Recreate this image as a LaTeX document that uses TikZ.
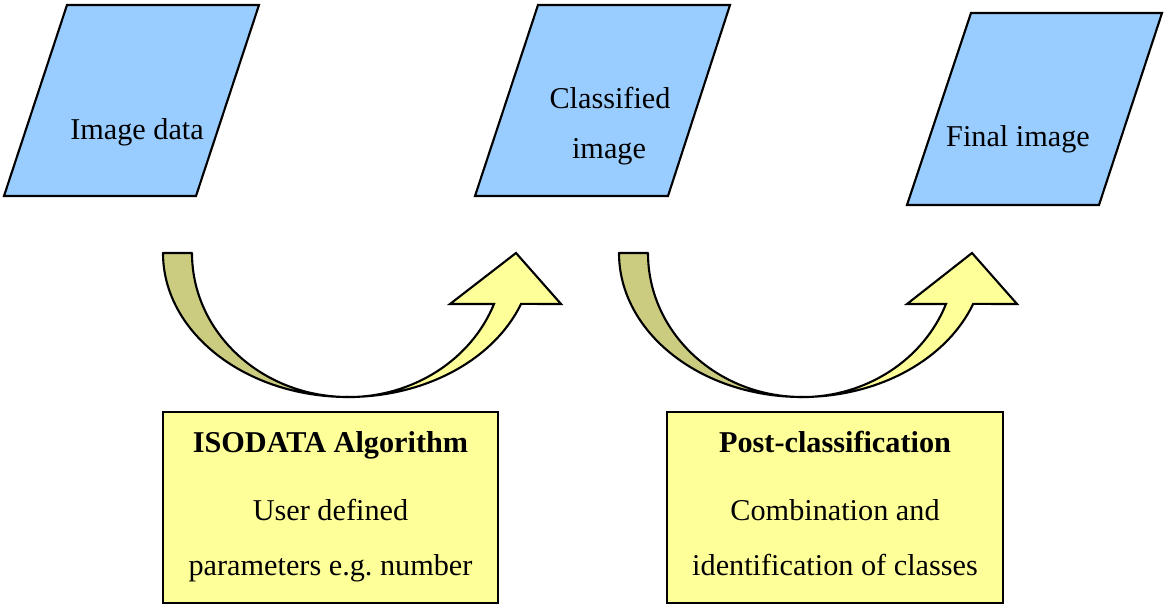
\documentclass[tikz,border=0pt]{standalone}
\usepackage{tikz}
\usepackage{fontspec}
\setmainfont{Liberation Serif}
\definecolor{imgblue}{RGB}{153,204,255}
\definecolor{noteyellow}{RGB}{255,255,153}
\definecolor{backyellow}{RGB}{204,204,128}
\usetikzlibrary{calc}

\tikzset{
  datashape/.style={fill=imgblue, draw=black, line width=0.6pt, line join=miter},
  stepbox/.style={rectangle, fill=noteyellow, draw=black, line width=0.6pt, minimum width=3.35cm, minimum height=1.91cm, inner sep=0pt},
  arrowback/.style={fill=backyellow, draw=black, line width=0.6pt, line join=round},
  arrowfront/.style={fill=noteyellow, draw=black, line width=0.6pt, line join=miter},
  txt/.style={anchor=base, inner sep=0pt, font=\fontsize{8.6}{10}\selectfont},
  txtbold/.style={txt, font=\fontsize{8.6}{10}\selectfont\bfseries}
}

\begin{document}
\begin{tikzpicture}[x=0.01cm, y=0.01cm]
  \useasboundingbox (0,0) rectangle (1164,-606);

  % Input image (top-left)
  \draw[datashape] (67,-5) -- (259,-5) -- (196,-196) -- (4,-196) -- cycle;
  \node[txt] (imgdata) at (137,-139) {Image data};

  % Classified image (top-center)
  \draw[datashape] (538,-5) -- (730,-5) -- (668,-196) -- (475,-196) -- cycle;
  \node[txt] (classified) at (610,-108) {Classified};
  \node[txt] (classimg) at (609,-158) {image};

  % Final image (top-right)
  \draw[datashape] (971,-13) -- (1162,-13) -- (1099,-205) -- (907,-205) -- cycle;
  \node[txt] (finalimg) at (1018,-146) {Final image};

  % Curved arrow 1: back band, then front band with head
  \draw[arrowback] (163,-253) arc[start angle=180, end angle=270, x radius=185, y radius=144]
    arc[start angle=270, end angle=180, x radius=156, y radius=144] -- cycle;
  \draw[arrowfront] (348,-397) arc[start angle=270, end angle=339.3, x radius=185, y radius=144]
    -- (561,-304) -- (516,-253) -- (450,-304) -- (494,-304)
    arc[start angle=339.3, end angle=270, x radius=156, y radius=144] -- cycle;

  % Curved arrow 2
  \draw[arrowback] (619,-253) arc[start angle=180, end angle=270, x radius=183, y radius=144]
    arc[start angle=270, end angle=180, x radius=154, y radius=144] -- cycle;
  \draw[arrowfront] (802,-397) arc[start angle=270, end angle=339.3, x radius=183, y radius=144]
    -- (1017,-304) -- (972,-253) -- (907,-304) -- (946,-304)
    arc[start angle=339.3, end angle=270, x radius=154, y radius=144] -- cycle;

  % Step 1: clustering
  \node[stepbox] (isodata) at (330.5,-507.5) {};
  \node[txtbold] (isotitle) at (330.5,-452) {ISODATA Algorithm};
  \node[txt] (isoline1) at (330.5,-520) {User defined};
  \node[txt] (isoline2) at (330.5,-575) {parameters e.g.\ number};

  % Step 2: post-classification
  \node[stepbox] (postclass) at (835,-507.5) {};
  \node[txtbold] (posttitle) at (835,-452) {Post-classification};
  \node[txt] (postline1) at (835,-520) {Combination and};
  \node[txt] (postline2) at (835,-575) {identification of classes};
\end{tikzpicture}
\end{document}
